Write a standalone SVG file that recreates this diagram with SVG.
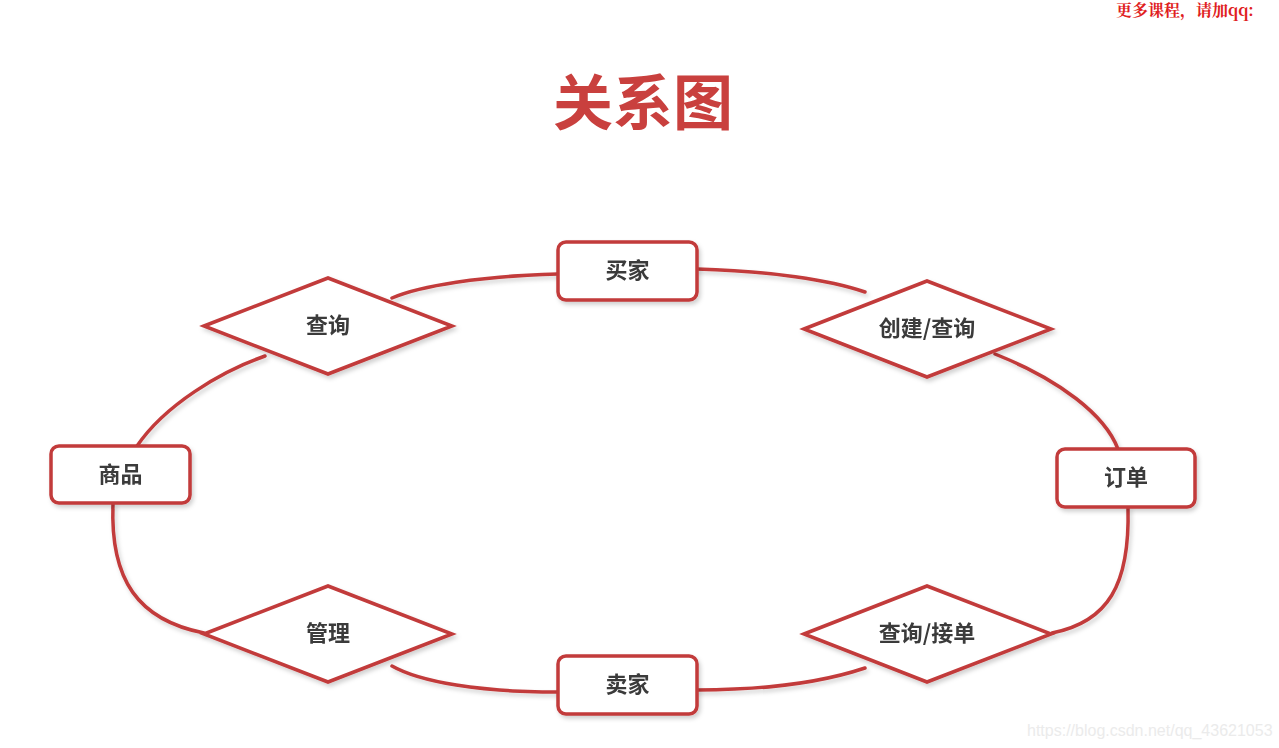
<svg xmlns="http://www.w3.org/2000/svg" width="1279" height="748" viewBox="0 0 1279 748">
<style>
.box{fill:#fff;stroke:#c23b3b;stroke-width:3.5}
.dia{fill:#fff;stroke:#c23b3b;stroke-width:3.5;stroke-linejoin:miter}
.lbl{font-family:"Noto Sans CJK SC","Noto Sans",sans-serif;font-size:22px;font-weight:bold;fill:#3a3a3a;text-anchor:middle;dominant-baseline:central}
.con{fill:none;stroke:#c23b3b;stroke-width:3.5;stroke-linecap:round}
</style>
<defs>
<filter id="sh" x="-10%" y="-10%" width="130%" height="140%">
<feDropShadow dx="2" dy="3" stdDeviation="2" flood-color="#000" flood-opacity="0.18"/>
</filter>
</defs>
<rect width="1279" height="748" fill="#fff"/>
<text x="1116" y="16" font-family="'Noto Serif CJK SC','Liberation Serif','Noto Sans CJK SC',serif" font-size="16" font-weight="bold" fill="#e02020">更多课程，请加qq:</text>
<text x="643" y="98" font-family="'Noto Sans CJK SC',sans-serif" font-size="60" font-weight="bold" fill="#c9403e" text-anchor="middle" dominant-baseline="central">关系图</text>
<g id="connectors" filter="url(#sh)">
<path class="con" d="M558,274 C480,276 420,286 392,298"/>
<path class="con" d="M697,269 C770,271 830,280 865,292"/>
<path class="con" d="M995,354 C1060,380 1105,415 1118,449"/>
<path class="con" d="M1128,508 C1130,585 1108,622 1052,633"/>
<path class="con" d="M865,668 C820,683 760,690 697,690"/>
<path class="con" d="M558,692 C480,692 420,682 392,666"/>
<path class="con" d="M204,633 C138,620 110,580 113,504"/>
<path class="con" d="M137,446 C165,405 220,372 265,356"/>
</g>
<g id="buyer" filter="url(#sh)">
<rect class="box" x="558" y="242" width="139" height="58" rx="8"/>
<text class="lbl" x="627.5" y="268">买家</text>
</g>
<g id="query1" filter="url(#sh)">
<polygon class="dia" points="204,326 328,278 452,326 328,374"/>
<text class="lbl" x="328" y="323">查询</text>
</g>
<g id="createquery" filter="url(#sh)">
<polygon class="dia" points="804,329 927,281 1051,329 927,377"/>
<text class="lbl" x="927" y="326">创建/查询</text>
</g>
<g id="goods" filter="url(#sh)">
<rect class="box" x="51" y="446" width="139" height="57" rx="8"/>
<text class="lbl" x="120.5" y="472">商品</text>
</g>
<g id="order" filter="url(#sh)">
<rect class="box" x="1057" y="449" width="138" height="58" rx="8"/>
<text class="lbl" x="1126" y="475">订单</text>
</g>
<g id="manage" filter="url(#sh)">
<polygon class="dia" points="204,634 328,586 452,634 328,682"/>
<text class="lbl" x="328" y="631">管理</text>
</g>
<g id="queryaccept" filter="url(#sh)">
<polygon class="dia" points="804,634 927,586 1051,634 927,682"/>
<text class="lbl" x="927" y="631">查询/接单</text>
</g>
<g id="seller" filter="url(#sh)">
<rect class="box" x="558" y="656" width="139" height="58" rx="8"/>
<text class="lbl" x="627.5" y="682">卖家</text>
</g>
<text x="1027" y="736" font-family="'Liberation Sans',Arial,sans-serif" font-size="16" fill="#ebebeb">https://blog.csdn.net/qq_43621053</text>
</svg>
